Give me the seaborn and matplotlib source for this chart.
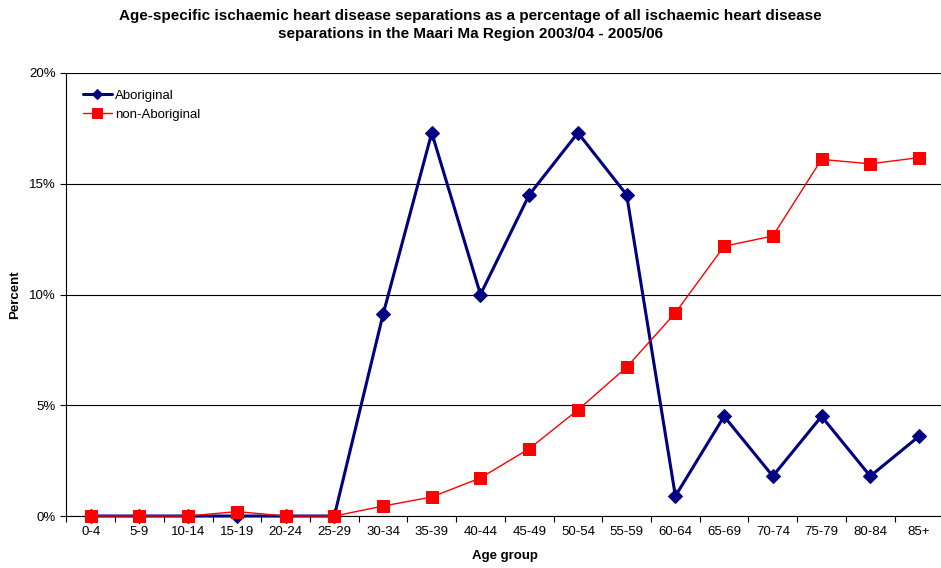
import matplotlib
matplotlib.use("Agg")
import matplotlib.pyplot as plt
import seaborn as sns
import pandas as pd
from matplotlib.ticker import FuncFormatter, FixedLocator

age_groups = ["0-4", "5-9", "10-14", "15-19", "20-24", "25-29", "30-34", "35-39",
              "40-44", "45-49", "50-54", "55-59", "60-64", "65-69", "70-74",
              "75-79", "80-84", "85+"]
aboriginal = [0, 0, 0, 0, 0, 0, 9.1, 17.3, 10.0, 14.5, 17.3, 14.5, 0.9, 4.5, 1.8, 4.5, 1.8, 3.6]
non_aboriginal = [0, 0, 0, 0.2, 0, 0, 0.45, 0.86, 1.72, 3.04, 4.79, 6.72, 9.17, 12.18, 12.64, 16.1, 15.9, 16.18]
y_ticks = [0, 5, 10, 15, 20]

sns.set_theme(style="white")
plt.rcParams['font.family'] = ['Liberation Sans', 'DejaVu Sans']
plt.rcParams['text.color'] = 'black'
plt.rcParams['axes.labelcolor'] = 'black'
plt.rcParams['xtick.color'] = 'black'
plt.rcParams['ytick.color'] = 'black'

df = pd.DataFrame({
    "Age group": age_groups * 2,
    "Percent": aboriginal + non_aboriginal,
    "Series": ["Aboriginal"] * len(age_groups) + ["non-Aboriginal"] * len(age_groups),
    "x": list(range(len(age_groups))) * 2,
})

fig = plt.figure(figsize=(9.41, 5.68), dpi=100)
ax = fig.add_axes([0.0705, 0.0915, 0.932, 0.78])

sns.lineplot(data=df[df.Series == "Aboriginal"], x="x", y="Percent", ax=ax,
             color="#000080", lw=2.2, marker="D", markersize=7, markeredgecolor="#000080",
             label="Aboriginal", zorder=3, clip_on=False)
sns.lineplot(data=df[df.Series == "non-Aboriginal"], x="x", y="Percent", ax=ax,
             color="#FF0000", lw=1.0, marker="s", markersize=9, markeredgecolor="#FF0000",
             label="non-Aboriginal", zorder=4, clip_on=False)

ax.set_xlim(-0.5, len(age_groups) - 0.5)
ax.set_ylim(0, 20)
ax.set_yticks(y_ticks)
ax.yaxis.set_major_formatter(FuncFormatter(lambda v, p: f"{int(v)}%"))
ax.set_xticks(range(len(age_groups)))
ax.set_xticklabels(age_groups, fontsize=9.5)
ax.xaxis.set_minor_locator(FixedLocator([i - 0.5 for i in range(len(age_groups) + 1)]))
ax.tick_params(axis="x", which="major", length=0, pad=7)
ax.tick_params(axis="x", which="minor", length=4, width=0.8, direction="out", color="black", bottom=True)
ax.tick_params(axis="y", length=4, width=0.8, direction="out", color="black", left=True, labelsize=9.5)
ax.grid(axis="y", color="black", lw=0.8)
ax.set_axisbelow(True)
for s in ["top", "right"]:
    ax.spines[s].set_visible(False)
for s in ["left", "bottom"]:
    ax.spines[s].set_color("black")
    ax.spines[s].set_linewidth(0.8)

ax.set_xlabel("Age group", fontsize=9.5, fontweight="bold", labelpad=9)
ax.set_ylabel("Percent", fontsize=9.5, fontweight="bold", labelpad=6)
fig.suptitle("Age-specific ischaemic heart disease separations as a percentage of all ischaemic heart disease\n"
             "separations in the Maari Ma Region 2003/04 - 2005/06",
             fontsize=11, fontweight="bold", y=0.985, x=0.5, linespacing=1.4, color="black")

leg = ax.legend(loc="upper left", bbox_to_anchor=(0.005, 0.99), frameon=False, fontsize=9.5,
                handlelength=2.2, handletextpad=0.25, labelspacing=0.55, markerscale=0.8)

fig.savefig("out.png", dpi=100)
